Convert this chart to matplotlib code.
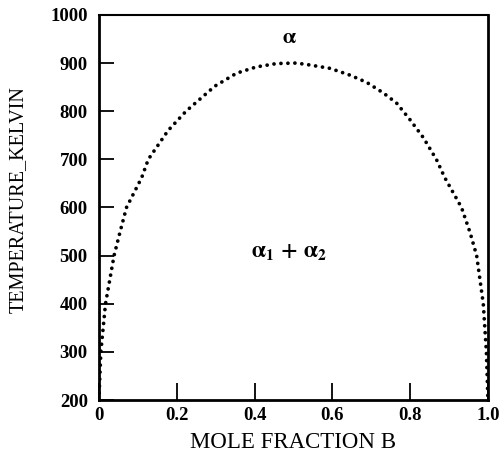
import matplotlib
matplotlib.use("Agg")
import matplotlib.pyplot as plt

plt.rcParams['font.family'] = 'Liberation Serif'
plt.rcParams['mathtext.fontset'] = 'stix'

# miscibility gap boundary, read across the dome from A-rich to B-rich side
mole_frac_b = [0.0, 0.005, 0.017, 0.039, 0.054, 0.071, 0.110, 0.127, 0.178, 0.224,
               0.298, 0.354, 0.405, 0.457, 0.508, 0.542, 0.594, 0.645, 0.688,
               0.731, 0.765, 0.799, 0.834, 0.868, 0.889, 0.932, 0.954, 0.971,
               0.988, 0.996, 1.0]
temp_k = [200, 300, 400, 500, 548, 600, 662, 700, 760, 800,
          852, 879, 892, 899, 900, 896, 889, 875, 860,
          838, 817, 783, 745, 699, 662, 600, 548, 500,
          400, 300, 200]

xticks = [0, 0.2, 0.4, 0.6, 0.8, 1.0]
xlabels = ['0', '0.2', '0.4', '0.6', '0.8', '1.0']
yticks = [200, 300, 400, 500, 600, 700, 800, 900, 1000]

fig = plt.figure(figsize=(5.02, 4.66), dpi=100)
ax = fig.add_axes([0.197, 0.1416, 0.775, 0.8264])

ax.plot(mole_frac_b, temp_k, color='black', linewidth=2.7,
        linestyle=(0, (0.01, 1.85)), dash_capstyle='round')

ax.text(0.49, 950, r'$\mathbf{\alpha}$', ha='center', va='center', fontsize=15)
ax.text(0.49, 505, r'$\mathbf{\alpha_1\,+\,\alpha_2}$', ha='center', va='center',
        fontsize=16)

ax.set_xlim(0, 1.0)
ax.set_ylim(200, 1000)
ax.set_xticks(xticks)
ax.set_xticklabels(xlabels)
ax.set_yticks(yticks)
ax.tick_params(axis='x', direction='in', length=12, width=1.3, pad=5,
               labelsize=13.5)
ax.tick_params(axis='y', direction='in', length=11, width=1.3, pad=8,
               labelsize=13.5)
for lab in ax.get_xticklabels() + ax.get_yticklabels():
    lab.set_fontweight('bold')

for side in ['left', 'bottom', 'right']:
    ax.spines[side].set_linewidth(2.0)
ax.spines['top'].set_linewidth(1.5)

ax.set_xlabel('MOLE FRACTION B', fontsize=16.5, labelpad=6)
ax.set_ylabel('TEMPERATURE_KELVIN', fontsize=14.5)
ax.yaxis.set_label_coords(-0.182, 0.52)

fig.savefig('out.png', dpi=100)
